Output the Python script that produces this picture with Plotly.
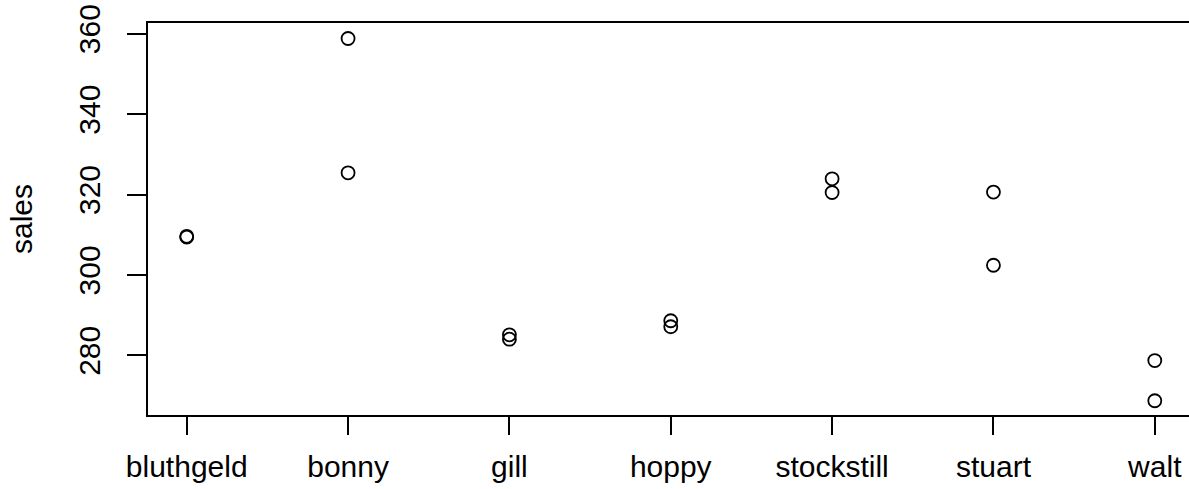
import plotly.graph_objects as go

categories = ["bluthgeld", "bonny", "gill", "hoppy", "stockstill", "stuart", "walt"]
sales_a = [309.6, 358.8, 285.1, 288.6, 323.9, 320.6, 278.7]
sales_b = [309.4, 325.4, 284.0, 287.1, 320.5, 302.4, 268.7]
y_ticks = [280, 300, 320, 340, 360]

xs, ys = [], []
for i, c in enumerate(categories):
    xs += [i + 1, i + 1]
    ys += [sales_a[i], sales_b[i]]

fig = go.Figure()
fig.add_trace(go.Scatter(
    x=xs, y=ys, mode="markers",
    marker=dict(symbol="circle-open", size=13, color="black", line=dict(width=1.8, color="black")),
    showlegend=False, hoverinfo="skip",
))

font = dict(family="Liberation Sans, Arial, sans-serif", size=30, color="black")

fig.update_layout(
    width=1189, height=489,
    margin=dict(l=148, r=0, t=23, b=74),
    paper_bgcolor="white", plot_bgcolor="white",
    font=font,
    xaxis=dict(
        range=[0.76, 7.212],
        tickmode="array", tickvals=list(range(1, len(categories) + 1)), ticktext=categories,
        showline=True, linecolor="black", linewidth=2, mirror=True,
        ticks="outside", ticklen=18, tickwidth=1.8, tickcolor="black",
        showgrid=False, zeroline=False, tickfont=font, ticklabelstandoff=6,
    ),
    yaxis=dict(
        range=[265.15, 362.66],
        tickmode="array", tickvals=y_ticks, ticktext=[str(v) for v in y_ticks],
        tickangle=-90,
        showline=True, linecolor="black", linewidth=2, mirror=False,
        ticks="outside", ticklen=19, tickwidth=1.8, tickcolor="black",
        showgrid=False, zeroline=False, tickfont=font, ticklabelstandoff=15,
        title=dict(text="sales", font=font, standoff=32),
    ),
)

fig.write_html(
    "out.html",
    config={"displayModeBar": False},
    post_script="document.body.style.margin='0';document.body.style.overflow='hidden';",
)
